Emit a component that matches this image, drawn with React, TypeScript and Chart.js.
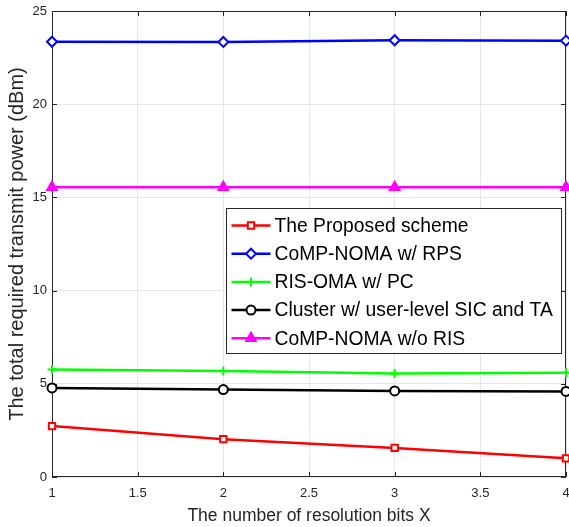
import React, { useEffect, useRef } from "react";
import { Chart, registerables } from "chart.js";
import { drawPoint } from "chart.js/helpers";

Chart.register(...registerables);

const xValues = [1, 2, 3, 4];
const xTicks = [1, 1.5, 2, 2.5, 3, 3.5, 4];
const yTicks = [0, 5, 10, 15, 20, 25];
const proposed = [2.73, 2.03, 1.56, 1.0];
const compRps = [23.35, 23.34, 23.43, 23.41];
const risOma = [5.77, 5.68, 5.55, 5.59];
const cluster = [4.78, 4.69, 4.62, 4.59];
const compNoRis = [15.55, 15.55, 15.55, 15.55];
const seriesLabels = [
  "The Proposed scheme",
  "CoMP-NOMA w/ RPS",
  "RIS-OMA w/ PC",
  "Cluster w/ user-level SIC and TA",
  "CoMP-NOMA w/o RIS",
];

const FONT = "'Liberation Sans', Arial, sans-serif";
const AXIS = "#262626";

const framePlugin = {
  id: "frame",
  beforeDatasetsDraw(chart: any) {
    const { ctx, chartArea: a, scales } = chart;
    ctx.save();
    ctx.strokeStyle = AXIS;
    ctx.lineWidth = 1;
    ctx.beginPath();
    ctx.rect(a.left + 0.5, a.top + 0.5, a.right - a.left - 1, a.bottom - a.top - 1);
    ctx.stroke();
    ctx.beginPath();
    xTicks.forEach((v) => {
      const x = Math.round(scales.x.getPixelForValue(v)) + 0.5;
      ctx.moveTo(x, a.bottom);
      ctx.lineTo(x, a.bottom - 5);
      ctx.moveTo(x, a.top);
      ctx.lineTo(x, a.top + 5);
    });
    yTicks.forEach((v) => {
      const y = Math.round(scales.y.getPixelForValue(v)) + 0.5;
      ctx.moveTo(a.left, y);
      ctx.lineTo(a.left + 5, y);
      ctx.moveTo(a.right, y);
      ctx.lineTo(a.right - 5, y);
    });
    ctx.stroke();
    ctx.restore();
  },
  afterDraw(chart: any) {
    const { ctx, chartArea: a } = chart;
    const left = a.left + 174.5;
    const top = a.top + 197.5;
    const w = 335;
    const h = 145;
    ctx.save();
    ctx.fillStyle = "#ffffff";
    ctx.fillRect(left, top, w, h);
    ctx.strokeStyle = AXIS;
    ctx.lineWidth = 1;
    ctx.strokeRect(left, top, w, h);
    chart.data.datasets.forEach((ds: any, i: number) => {
      const cy = top + 17 + i * 28.2;
      ctx.strokeStyle = ds.borderColor;
      ctx.lineWidth = 2.5;
      ctx.beginPath();
      ctx.moveTo(left + 5, cy);
      ctx.lineTo(left + 44, cy);
      ctx.stroke();
      ctx.fillStyle = ds.pointBackgroundColor;
      ctx.strokeStyle = ds.borderColor;
      ctx.lineWidth = ds.pointBorderWidth;
      drawPoint(
        ctx,
        {
          pointStyle: ds.pointStyle,
          radius: ds.pointRadius,
          rotation: 0,
          borderWidth: ds.pointBorderWidth,
        } as any,
        left + 24.5,
        cy
      );
      ctx.fillStyle = "#000000";
      ctx.font = `19.3px ${FONT}`;
      ctx.textBaseline = "middle";
      ctx.textAlign = "left";
      ctx.fillText(ds.label, left + 48, cy + 1);
    });
    ctx.restore();
  },
};

export default function App() {
  const ref = useRef<HTMLCanvasElement>(null);
  useEffect(() => {
    if (!ref.current) return;
    const mk = (
      label: string,
      data: number[],
      color: string,
      style: string,
      radius: number,
      fill: string
    ) => ({
      label,
      data: data.map((y, i) => ({ x: xValues[i], y })),
      borderColor: color,
      backgroundColor: color,
      pointBackgroundColor: fill,
      pointBorderColor: color,
      pointStyle: style,
      pointRadius: radius,
      pointBorderWidth: 2,
      borderWidth: 2.5,
      tension: 0,
      clip: false,
    });
    const chart = new Chart(ref.current, {
      type: "line",
      data: {
        datasets: [
          mk(seriesLabels[0], proposed, "#ff0000", "rect", 4.5, "#ffffff"),
          mk(seriesLabels[1], compRps, "#0000ff", "rectRot", 5, "#ffffff"),
          mk(seriesLabels[2], risOma, "#00ff00", "cross", 4.5, "#00ff00"),
          mk(seriesLabels[3], cluster, "#000000", "circle", 4.5, "#ffffff"),
          mk(seriesLabels[4], compNoRis, "#ff00ff", "triangle", 5.5, "#ff00ff"),
        ] as any,
      },
      options: {
        animation: false,
        responsive: true,
        maintainAspectRatio: false,
        layout: { autoPadding: false, padding: { top: 11, right: 3, left: 0, bottom: 0 } },
        plugins: { legend: { display: false }, tooltip: { enabled: false } },
        scales: {
          x: {
            type: "linear",
            min: 1,
            max: 4,
            afterBuildTicks: (s: any) => {
              s.ticks = xTicks.map((v) => ({ value: v }));
            },
            afterFit: (s: any) => {
              s.height = 50;
              s.paddingLeft = 0;
              s.paddingRight = 0;
            },
            grid: { color: "#e6e6e6", drawTicks: false },
            border: { display: false },
            ticks: {
              padding: 9,
              color: AXIS,
              font: { family: FONT, size: 13 },
              maxRotation: 0,
              callback: (v: any) => String(v),
            },
            title: {
              display: true,
              text: "The number of resolution bits X",
              color: AXIS,
              font: { family: FONT, size: 17.5 },
              padding: { top: 10, bottom: 0 },
            },
          },
          y: {
            type: "linear",
            min: 0,
            max: 25,
            afterBuildTicks: (s: any) => {
              s.ticks = yTicks.map((v) => ({ value: v }));
            },
            afterFit: (s: any) => {
              s.width = 52;
              s.paddingTop = 0;
              s.paddingBottom = 0;
            },
            grid: { color: "#e6e6e6", drawTicks: false },
            border: { display: false },
            ticks: {
              padding: 5,
              color: AXIS,
              font: { family: FONT, size: 13 },
            },
            title: {
              display: true,
              text: "The total required transmit power (dBm)",
              color: AXIS,
              font: { family: FONT, size: 20 },
              padding: { top: 5, bottom: 0 },
            },
          },
        },
      } as any,
      plugins: [framePlugin],
    });
    return () => chart.destroy();
  }, []);
  return (
    <div style={{ position: "fixed", left: 0, top: 0, width: 569, height: 527, background: "#fff" }}>
      <canvas ref={ref} />
    </div>
  );
}
